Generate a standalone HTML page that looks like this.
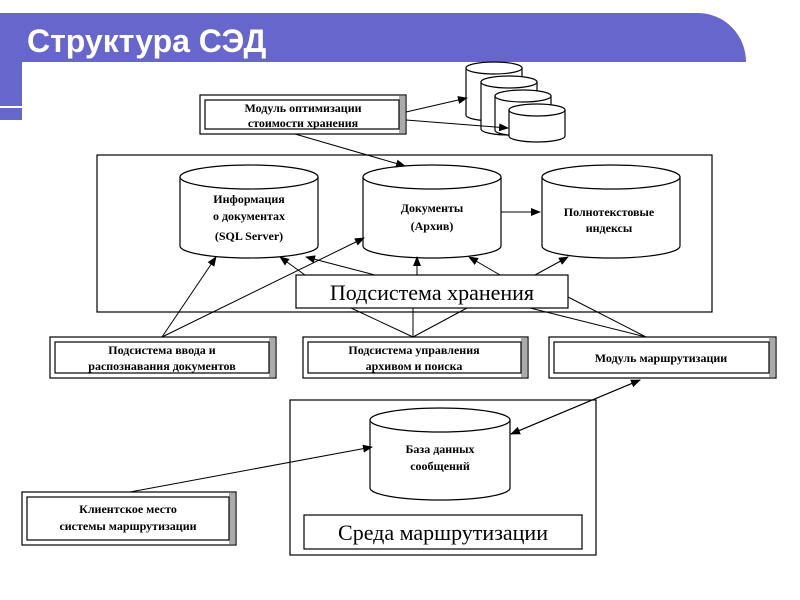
<!DOCTYPE html>
<html><head><meta charset="utf-8"><style>
html,body{margin:0;padding:0;background:#fff;}
svg{display:block;}
text{font-family:"Liberation Serif",serif;fill:#000;}
.b{font-weight:bold;font-size:12px;}
</style></head><body>
<svg width="800" height="600" viewBox="0 0 800 600" xmlns="http://www.w3.org/2000/svg">
<defs>
<marker id="a" markerWidth="10" markerHeight="8" refX="9" refY="4" orient="auto" markerUnits="userSpaceOnUse">
<path d="M0,0 L10,4 L0,8 z" fill="#000"/></marker>
<g id="cylT"></g>
</defs>
<!-- header -->
<path d="M0,13 H698 A48,49 0 0 1 746,62 H22 V120 H0 Z" fill="#6666cc"/>
<rect x="0" y="106" width="22" height="2" fill="#fff"/>
<text x="27" y="52" style="font-family:'Liberation Sans',sans-serif;font-weight:bold;font-size:32px;fill:#fff">Структура  СЭД</text>

<g fill="#fff" stroke="#000" stroke-width="1.2">
<!-- stacked cylinders -->
<path d="M466,68 V115 A28,6 0 0 0 522,115 V68 Z"/><ellipse cx="494" cy="68" rx="28" ry="6"/>
<path d="M481,82 V129 A28,6 0 0 0 537,129 V82 Z"/><ellipse cx="509" cy="82" rx="28" ry="6"/>
<path d="M495,96 V130 A28,6 0 0 0 551,130 V96 Z"/><ellipse cx="523" cy="96" rx="28" ry="6"/>
<path d="M509,110 V136 A28,6 0 0 0 565,136 V110 Z"/><ellipse cx="537" cy="110" rx="28" ry="6"/>

<!-- main storage box -->
<rect x="97" y="155" width="615" height="157"/>
<!-- cylinders -->
<path d="M180,177 V246 A69,12 0 0 0 318,246 V177 Z"/><ellipse cx="249" cy="177" rx="69" ry="12"/>
<path d="M363,177 V246 A69,12 0 0 0 501,246 V177 Z"/><ellipse cx="432" cy="177" rx="69" ry="12"/>
<path d="M542,177 V246 A69,12 0 0 0 680,246 V177 Z"/><ellipse cx="611" cy="177" rx="69" ry="12"/>
<rect x="296" y="275" width="272" height="33"/>

<!-- routing env -->
<rect x="290" y="400" width="306" height="155"/>
<path d="M370,420 V488 A70,12 0 0 0 510,488 V420 Z"/><ellipse cx="440" cy="420" rx="70" ry="12"/>
<rect x="304" y="515" width="278" height="34"/>
</g>

<!-- beveled boxes -->
<g stroke="#000" stroke-width="1.2">
<g><rect x="200" y="95" width="206" height="39" fill="#fff"/><rect x="399" y="96" width="6" height="37" fill="#aaa" stroke="none"/><rect x="205" y="100" width="194" height="29" fill="#fff"/></g>
<g><rect x="50" y="337" width="226" height="41" fill="#fff"/><rect x="269" y="338" width="6" height="39" fill="#aaa" stroke="none"/><rect x="55" y="342" width="214" height="31" fill="#fff"/></g>
<g><rect x="303" y="337" width="225" height="41" fill="#fff"/><rect x="521" y="338" width="6" height="39" fill="#aaa" stroke="none"/><rect x="308" y="342" width="213" height="31" fill="#fff"/></g>
<g><rect x="549" y="337" width="227" height="41" fill="#fff"/><rect x="769" y="338" width="6" height="39" fill="#aaa" stroke="none"/><rect x="554" y="342" width="215" height="31" fill="#fff"/></g>
<g><rect x="22" y="492" width="214" height="53" fill="#fff"/><rect x="229" y="493" width="6" height="51" fill="#aaa" stroke="none"/><rect x="27" y="497" width="202" height="43" fill="#fff"/></g>
</g>

<!-- connectors -->
<g stroke="#000" stroke-width="1" fill="none">
<line x1="406" y1="112" x2="467" y2="98" marker-end="url(#a)"/>
<line x1="406" y1="120" x2="508" y2="128" marker-end="url(#a)"/>
<line x1="295" y1="134" x2="405" y2="166" marker-end="url(#a)"/>
<line x1="501" y1="212" x2="540" y2="212" marker-end="url(#a)"/>
<line x1="162" y1="337" x2="216" y2="257" marker-end="url(#a)"/>
<line x1="162" y1="337" x2="364" y2="238" marker-end="url(#a)"/>
<line x1="305" y1="275" x2="280" y2="257" marker-end="url(#a)"/>
<line x1="375" y1="275" x2="306" y2="257" marker-end="url(#a)"/>
<line x1="417" y1="275" x2="417" y2="257" marker-end="url(#a)"/>
<line x1="500" y1="275" x2="469" y2="257" marker-end="url(#a)"/>
<line x1="535" y1="275" x2="568" y2="257" marker-end="url(#a)"/>
<line x1="351" y1="308" x2="413" y2="337"/>
<line x1="413" y1="308" x2="413" y2="337"/>
<line x1="467" y1="308" x2="413" y2="337"/>
<line x1="530" y1="308" x2="646" y2="337"/>
<line x1="568" y1="297" x2="646" y2="337"/>
<line x1="511" y1="434" x2="640" y2="380" marker-end="url(#a)"/>
<line x1="640" y1="380" x2="511" y2="434" marker-end="url(#a)"/>
<line x1="130" y1="492" x2="372" y2="447" marker-end="url(#a)"/>
</g>

<!-- labels -->
<g text-anchor="middle">
<text class="b" x="303" y="112">Модуль оптимизации</text>
<text class="b" x="303" y="127">стоимости хранения</text>
<text class="b" x="249" y="203" font-size="13">Информация</text>
<text class="b" x="249" y="220" font-size="13">о документах</text>
<text class="b" x="249" y="240" font-size="13">(SQL Server)</text>
<text class="b" x="432" y="212" font-size="13">Документы</text>
<text class="b" x="432" y="230" font-size="13">(Архив)</text>
<text class="b" x="609" y="216" font-size="13">Полнотекстовые</text>
<text class="b" x="609" y="232" font-size="13">индексы</text>
<text x="432" y="300" font-size="22">Подсистема хранения</text>
<text class="b" x="162" y="354" font-size="13">Подсистема ввода и</text>
<text class="b" x="162" y="370" font-size="13">распознавания документов</text>
<text class="b" x="414" y="354" font-size="13">Подсистема управления</text>
<text class="b" x="414" y="370" font-size="13">архивом и поиска</text>
<text class="b" x="661" y="362" font-size="13">Модуль маршрутизации</text>
<text class="b" x="440" y="453" font-size="13">База данных</text>
<text class="b" x="440" y="470" font-size="13">сообщений</text>
<text x="443" y="540" font-size="22">Среда маршрутизации</text>
<text class="b" x="128" y="513" font-size="13">Клиентское место</text>
<text class="b" x="128" y="530" font-size="13">системы маршрутизации</text>
</g>
</svg>
</body></html>
